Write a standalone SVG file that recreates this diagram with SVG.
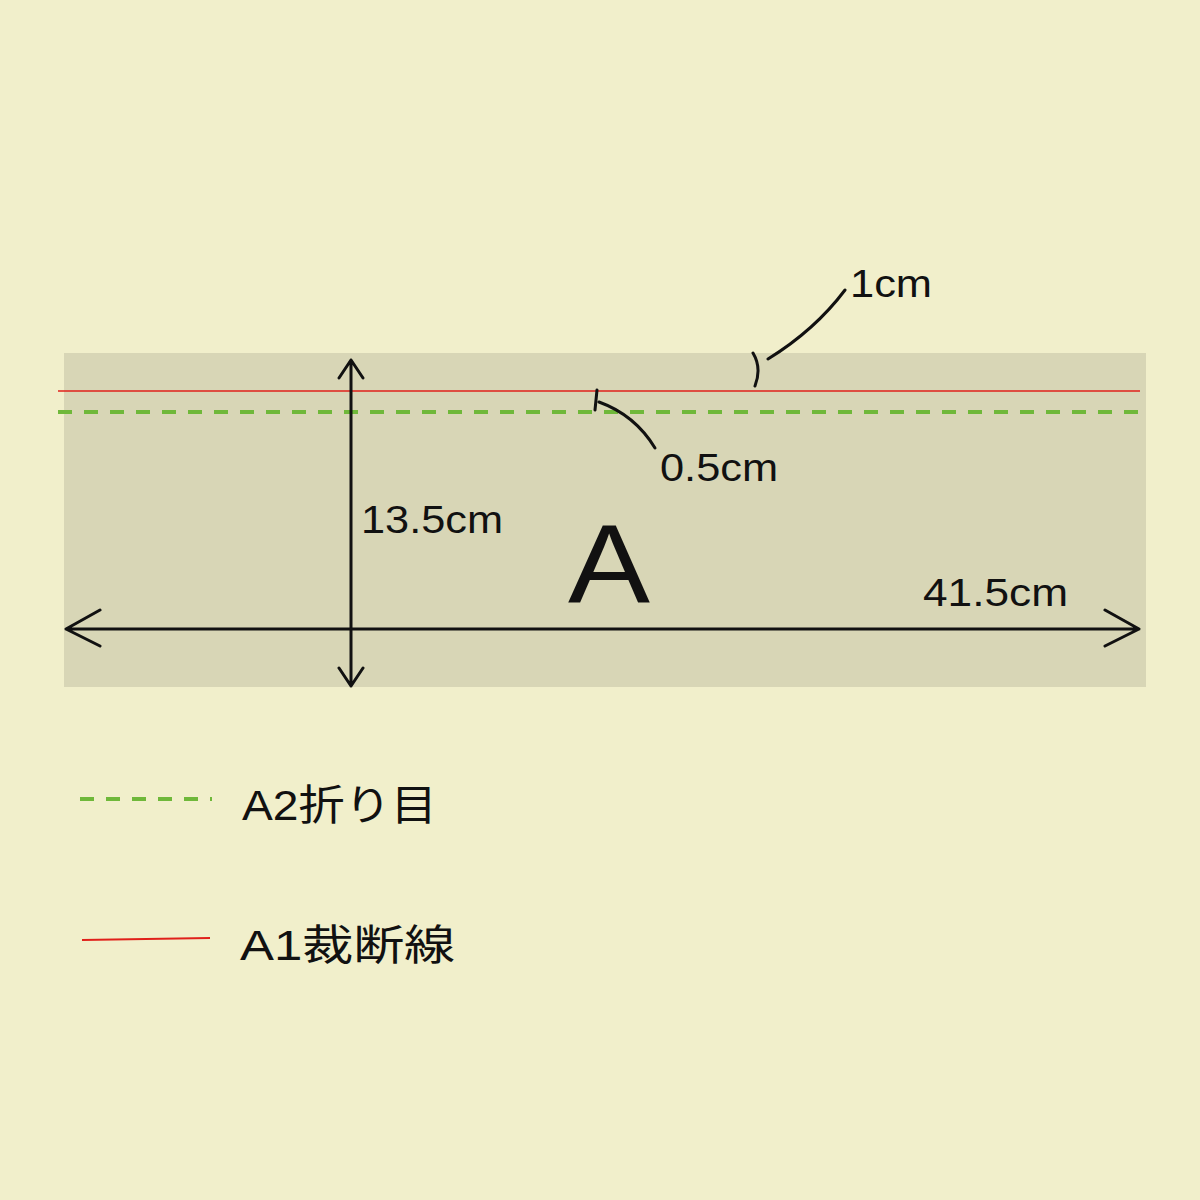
<svg xmlns="http://www.w3.org/2000/svg" width="1200" height="1200" viewBox="0 0 1200 1200">
<style>
text{font-family:"Liberation Sans","Noto Sans CJK JP",sans-serif;fill:#111}
.k{stroke:#111;stroke-width:3;fill:none;stroke-linecap:round;stroke-linejoin:round}
.g{stroke:#6fb83a;stroke-width:4;stroke-dasharray:14 12;fill:none}
.r{stroke:#e0201a;stroke-width:1.5;fill:none}
</style>
<rect width="1200" height="1200" fill="#f1efcb"/>
<g id="panel">
<rect x="64" y="353" width="1082" height="334" fill="#d8d6b6"/>
<text x="609" y="602" font-size="112" text-anchor="middle" textLength="82" lengthAdjust="spacingAndGlyphs">A</text>
</g>
<g id="connectors">
<line class="r" x1="58" y1="391" x2="1140" y2="391"/>
<line class="g" x1="58" y1="412" x2="1142" y2="412"/>
<path class="k" d="M351 360V686M339 378L351 360L363 378M339 668L351 686L363 668"/>
<path class="k" d="M66 629H1139M100 610L66 629L100 646M1105 610L1139 629L1105 646"/>
<path class="k" d="M753 353Q762 368 755 386M768 359Q815 330 845 290"/>
<path class="k" d="M597 390L595 410M599 402Q635 415 655 448"/>
</g>
<g id="labels">
<text x="361" y="533" font-size="38" textLength="142" lengthAdjust="spacingAndGlyphs">13.5cm</text>
<text x="923" y="606" font-size="38" textLength="145" lengthAdjust="spacingAndGlyphs">41.5cm</text>
<text x="850" y="297" font-size="38" textLength="82" lengthAdjust="spacingAndGlyphs">1cm</text>
<text x="660" y="481" font-size="38" textLength="118" lengthAdjust="spacingAndGlyphs">0.5cm</text>
</g>
<g id="legend">
<line class="g" x1="80" y1="799" x2="212" y2="799"/>
<text x="242" y="820" font-size="42" textLength="195" lengthAdjust="spacingAndGlyphs">A2折り目</text>
<line x1="82" y1="940" x2="210" y2="938" stroke="#e0201a" stroke-width="2"/>
<text x="240" y="960" font-size="42" textLength="215" lengthAdjust="spacingAndGlyphs">A1裁断線</text>
</g>
</svg>
